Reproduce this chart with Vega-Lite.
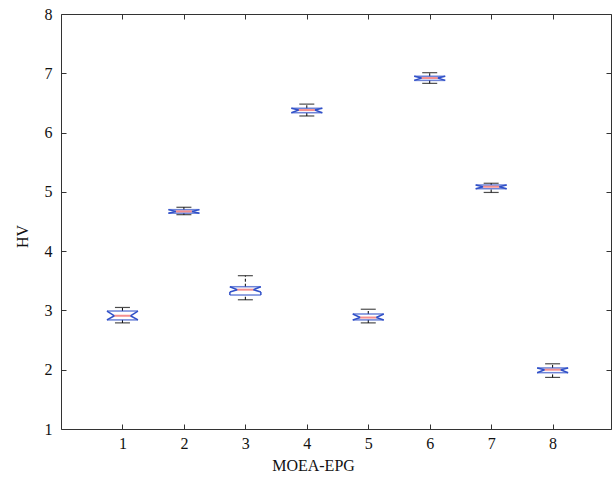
{
  "$schema": "https://vega.github.io/schema/vega-lite/v6.json",
  "autosize": {"type": "none"},
  "padding": {"left": 61, "top": 14, "right": 1, "bottom": 54},
  "width": 550,
  "height": 415,
  "background": "white",
  "config": {
    "view": {"stroke": null},
    "axis": {
      "labelFont": "Liberation Serif",
      "titleFont": "Liberation Serif",
      "labelFontSize": 16,
      "titleFontSize": 16,
      "titleFontWeight": "normal",
      "labelColor": "#111111",
      "titleColor": "#111111",
      "domainColor": "#333333",
      "tickColor": "#333333",
      "grid": false,
      "tickSize": -5
    }
  },
  "data": {
    "values": [
      {"pos": 1, "lw": 2.79, "q1": 2.84, "nlo": 2.84, "med": 2.91, "nhi": 2.99, "q3": 2.99, "uw": 3.05},
      {"pos": 2, "lw": 4.615, "q1": 4.64, "nlo": 4.64, "med": 4.67, "nhi": 4.70, "q3": 4.70, "uw": 4.74},
      {"pos": 3, "lw": 3.18, "q1": 3.26, "nlo": 3.31, "med": 3.35, "nhi": 3.40, "q3": 3.40, "uw": 3.586},
      {"pos": 4, "lw": 6.28, "q1": 6.335, "nlo": 6.335, "med": 6.38, "nhi": 6.41, "q3": 6.41, "uw": 6.48},
      {"pos": 5, "lw": 2.79, "q1": 2.84, "nlo": 2.84, "med": 2.88, "nhi": 2.94, "q3": 2.94, "uw": 3.02},
      {"pos": 6, "lw": 6.83, "q1": 6.88, "nlo": 6.88, "med": 6.92, "nhi": 6.95, "q3": 6.95, "uw": 7.01},
      {"pos": 7, "lw": 4.99, "q1": 5.053, "nlo": 5.053, "med": 5.087, "nhi": 5.116, "q3": 5.116, "uw": 5.145},
      {"pos": 8, "lw": 1.87, "q1": 1.95, "nlo": 1.95, "med": 2.00, "nhi": 2.03, "q3": 2.03, "uw": 2.10}
    ]
  },
  "resolve": {"axis": {"x": "independent", "y": "independent"}},
  "layer": [
    {
      "mark": {"type": "rule", "color": "#000000", "strokeWidth": 1, "strokeDash": [3, 2]},
      "encoding": {
        "x": {"field": "pos", "type": "quantitative", "scale": {"domain": [0, 8.95], "nice": false, "zero": false},
          "axis": {"orient": "bottom", "values": [1, 2, 3, 4, 5, 6, 7, 8], "title": "MOEA-EPG", "labelPadding": 11, "titlePadding": 6, "labelFlush": false, "titleX": 252}},
        "y": {"field": "q3", "type": "quantitative", "scale": {"domain": [1, 8], "nice": false, "zero": false},
          "axis": {"orient": "left", "values": [1, 2, 3, 4, 5, 6, 7, 8], "title": "HV", "labelPadding": 14, "titlePadding": 14, "labelFlush": false, "titleY": 222}},
        "y2": {"field": "uw"}
      }
    },
    {
      "mark": {"type": "rule", "color": "#000000", "strokeWidth": 1, "strokeDash": [3, 2]},
      "encoding": {
        "x": {"field": "pos", "type": "quantitative",
          "axis": {"orient": "top", "values": [1, 2, 3, 4, 5, 6, 7, 8], "labels": false, "title": null}},
        "y": {"field": "lw", "type": "quantitative",
          "axis": {"orient": "right", "values": [1, 2, 3, 4, 5, 6, 7, 8], "labels": false, "title": null}},
        "y2": {"field": "q1"}
      }
    },
    {
      "transform": [{"fold": ["lw", "uw"], "as": ["k", "v"]}],
      "mark": {"type": "tick", "orient": "horizontal", "size": 15, "thickness": 1.2, "color": "#000000"},
      "encoding": {
        "x": {"field": "pos", "type": "quantitative", "axis": null},
        "y": {"field": "v", "type": "quantitative", "axis": null}
      }
    },
    {
      "transform": [{"fold": ["q1", "q3"], "as": ["k", "v"]}],
      "mark": {"type": "tick", "orient": "horizontal", "size": 31, "thickness": 1.5, "color": "#3050c8"},
      "encoding": {
        "x": {"field": "pos", "type": "quantitative", "axis": null},
        "y": {"field": "v", "type": "quantitative", "axis": null}
      }
    },
    {
      "mark": {"type": "rule", "color": "#3050c8", "strokeWidth": 1.5, "xOffset": -15.5, "x2Offset": -15.5},
      "encoding": {
        "x": {"field": "pos", "type": "quantitative", "axis": null}, "x2": {"field": "pos"},
        "y": {"field": "q3", "type": "quantitative", "axis": null}, "y2": {"field": "nhi"}
      }
    },
    {
      "mark": {"type": "rule", "color": "#3050c8", "strokeWidth": 1.5, "xOffset": -15.5, "x2Offset": -8},
      "encoding": {
        "x": {"field": "pos", "type": "quantitative", "axis": null}, "x2": {"field": "pos"},
        "y": {"field": "nhi", "type": "quantitative", "axis": null}, "y2": {"field": "med"}
      }
    },
    {
      "mark": {"type": "rule", "color": "#3050c8", "strokeWidth": 1.5, "xOffset": -8, "x2Offset": -15.5},
      "encoding": {
        "x": {"field": "pos", "type": "quantitative", "axis": null}, "x2": {"field": "pos"},
        "y": {"field": "med", "type": "quantitative", "axis": null}, "y2": {"field": "nlo"}
      }
    },
    {
      "mark": {"type": "rule", "color": "#3050c8", "strokeWidth": 1.5, "xOffset": -15.5, "x2Offset": -15.5},
      "encoding": {
        "x": {"field": "pos", "type": "quantitative", "axis": null}, "x2": {"field": "pos"},
        "y": {"field": "nlo", "type": "quantitative", "axis": null}, "y2": {"field": "q1"}
      }
    },
    {
      "mark": {"type": "rule", "color": "#3050c8", "strokeWidth": 1.5, "xOffset": 15.5, "x2Offset": 15.5},
      "encoding": {
        "x": {"field": "pos", "type": "quantitative", "axis": null}, "x2": {"field": "pos"},
        "y": {"field": "q3", "type": "quantitative", "axis": null}, "y2": {"field": "nhi"}
      }
    },
    {
      "mark": {"type": "rule", "color": "#3050c8", "strokeWidth": 1.5, "xOffset": 15.5, "x2Offset": 8},
      "encoding": {
        "x": {"field": "pos", "type": "quantitative", "axis": null}, "x2": {"field": "pos"},
        "y": {"field": "nhi", "type": "quantitative", "axis": null}, "y2": {"field": "med"}
      }
    },
    {
      "mark": {"type": "rule", "color": "#3050c8", "strokeWidth": 1.5, "xOffset": 8, "x2Offset": 15.5},
      "encoding": {
        "x": {"field": "pos", "type": "quantitative", "axis": null}, "x2": {"field": "pos"},
        "y": {"field": "med", "type": "quantitative", "axis": null}, "y2": {"field": "nlo"}
      }
    },
    {
      "mark": {"type": "rule", "color": "#3050c8", "strokeWidth": 1.5, "xOffset": 15.5, "x2Offset": 15.5},
      "encoding": {
        "x": {"field": "pos", "type": "quantitative", "axis": null}, "x2": {"field": "pos"},
        "y": {"field": "nlo", "type": "quantitative", "axis": null}, "y2": {"field": "q1"}
      }
    },
    {
      "mark": {"type": "tick", "orient": "horizontal", "size": 16, "thickness": 2, "color": "#f06060"},
      "encoding": {
        "x": {"field": "pos", "type": "quantitative", "axis": null},
        "y": {"field": "med", "type": "quantitative", "axis": null}
      }
    }
  ]
}
